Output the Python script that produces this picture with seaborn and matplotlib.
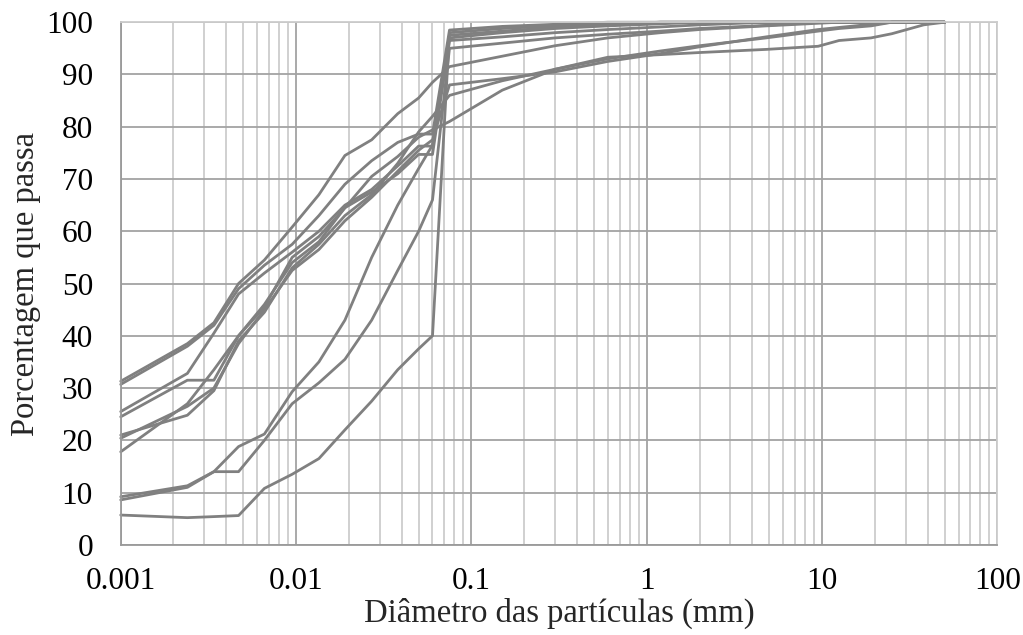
import numpy as np
import pandas as pd
import matplotlib
matplotlib.use("Agg")
import matplotlib.pyplot as plt
import seaborn as sns
from matplotlib.ticker import FixedLocator, LogLocator, NullFormatter

# ---- data ----
hyd_d = [0.001, 0.0024, 0.0034, 0.0047, 0.0066, 0.0095, 0.0135, 0.019, 0.027, 0.038, 0.05, 0.06]
sieve_d = [0.075, 0.15, 0.3, 0.6, 1.2, 2.0, 4.8, 9.5, 12.5, 19, 25, 38, 50]

s1_hyd = [31.3, 38.5, 42.5, 50.0, 54.5, 60.8, 67.0, 74.5, 77.5, 82.5, 85.5, 88.5]
s1_sieve = [91.5, 93.5, 95.5, 97.0, 98.0, 98.6, 99.3, 99.8, 100, 100, 100, 100, 100]

s2_hyd = [30.7, 38.0, 42.0, 49.0, 53.5, 57.5, 63.0, 69.0, 73.5, 77.0, 78.6, 78.6]
s2_sieve = [98.5, 99.2, 99.6, 100, 100, 100, 100, 100, 100, 100, 100, 100, 100]

s3_hyd = [25.5, 32.8, 40.5, 48.0, 52.0, 56.0, 60.0, 65.0, 68.0, 72.5, 76.3, 76.3]
s3_sieve = [97.5, 98.3, 99.0, 99.5, 100, 100, 100, 100, 100, 100, 100, 100, 100]

s4_hyd = [24.5, 31.5, 31.5, 40.0, 46.0, 54.0, 58.0, 64.5, 67.5, 71.0, 74.7, 74.7]
s4_sieve = [96.5, 97.2, 98.0, 98.6, 99.1, 99.5, 100, 100, 100, 100, 100, 100, 100]

s5_hyd = [21.0, 24.8, 29.5, 39.0, 44.5, 53.0, 57.5, 63.0, 67.0, 73.0, 79.0, 82.0]
s5_sieve = [86.0, 88.8, 91.0, 93.0, 94.5, 95.5, 97.0, 98.3, 98.8, 99.3, 100, 100, 100]

s6_hyd = [20.4, 26.5, 30.0, 38.5, 45.0, 52.5, 56.5, 62.0, 66.5, 71.5, 75.5, 77.5]
s6_sieve = [88.0, 89.2, 90.5, 92.5, 94.0, 95.3, 97.2, 98.6, 99.0, 99.6, 100, 100, 100]

s7_hyd = [17.8, 27.0, 33.5, 40.0, 45.5, 55.0, 59.0, 64.5, 70.5, 74.3, 78.0, 79.4]
s7_sieve = [81.0, 87.0, 91.0, 93.3, 93.8, 94.2, 94.8, 95.4, 96.5, 97.0, 97.8, 99.5, 100]

s8_hyd = [9.2, 11.3, 14.0, 18.8, 21.2, 29.3, 35.0, 43.0, 55.0, 65.0, 72.0, 76.5]
s8_sieve = [97.0, 98.0, 98.8, 99.3, 99.7, 100, 100, 100, 100, 100, 100, 100, 100]

s9_hyd = [8.6, 11.0, 14.0, 14.0, 20.0, 27.0, 31.0, 35.5, 43.0, 52.5, 60.0, 66.0]
s9_sieve = [95.0, 96.0, 97.0, 97.7, 98.3, 98.8, 99.4, 100, 100, 100, 100, 100, 100]

s10_hyd = [5.7, 5.2, 5.4, 5.6, 10.8, 13.5, 16.5, 22.0, 27.5, 33.5, 37.5, 40.0]
s10_sieve = [98.0, 98.8, 99.3, 99.7, 100, 100, 100, 100, 100, 100, 100, 100, 100]

samples = {
    "A1": (s1_hyd, s1_sieve), "A2": (s2_hyd, s2_sieve), "A3": (s3_hyd, s3_sieve),
    "A4": (s4_hyd, s4_sieve), "A5": (s5_hyd, s5_sieve), "A6": (s6_hyd, s6_sieve),
    "A7": (s7_hyd, s7_sieve), "A8": (s8_hyd, s8_sieve), "A9": (s9_hyd, s9_sieve),
    "A10": (s10_hyd, s10_sieve),
}

x_ticks = [0.001, 0.01, 0.1, 1, 10, 100]
x_labels = ["0.001", "0.01", "0.1", "1", "10", "100"]
y_ticks = list(range(0, 101, 10))

rows = []
for name, (h, s) in samples.items():
    for d, p in zip(hyd_d + sieve_d, h + s):
        rows.append({"sample": name, "d": d, "p": p})
df = pd.DataFrame(rows)

# ---- plot ----
sns.set_theme(style="white")
plt.rcParams["font.family"] = ["Liberation Serif", "DejaVu Serif"]

fig = plt.figure(figsize=(10.23, 6.35), dpi=100)
ax = fig.add_axes([0.118, 0.142, 0.857, 0.823])
ax.set_xscale("log")
ax.set_xlim(0.001, 100)
ax.set_ylim(0, 100)

ax.xaxis.set_major_locator(FixedLocator(x_ticks))
ax.set_xticklabels(x_labels)
ax.xaxis.set_minor_locator(LogLocator(base=10, subs=np.arange(2, 10)))
ax.xaxis.set_minor_formatter(NullFormatter())
ax.set_yticks(y_ticks)

ax.grid(which="major", axis="y", color="#a3a3a3", lw=1.3)
ax.grid(which="major", axis="x", color="#a3a3a3", lw=1.3)
ax.grid(which="minor", axis="x", color="#cdcdcd", lw=1.3)
ax.set_axisbelow(True)

sns.lineplot(data=df, x="d", y="p", units="sample", estimator=None, sort=False,
             color="#808080", lw=2.0, ax=ax, legend=False, clip_on=False)

for side in ["left", "bottom"]:
    ax.spines[side].set_color("#9a9a9a")
    ax.spines[side].set_linewidth(1.3)
ax.spines["top"].set_color("#cdcdcd")
ax.spines["top"].set_linewidth(1.3)
ax.spines["right"].set_color("#cdcdcd")
ax.spines["right"].set_linewidth(1.3)

ax.tick_params(axis="both", which="both", length=0, labelsize=22.5, colors="black")
ax.tick_params(axis="x", pad=16)
ax.tick_params(axis="y", pad=20)

ax.set_xlabel("Diâmetro das partículas (mm)", fontsize=23.5, labelpad=1)
ax.set_ylabel("Porcentagem que passa", fontsize=23.5, labelpad=4)

fig.savefig("out.png", dpi=100)
